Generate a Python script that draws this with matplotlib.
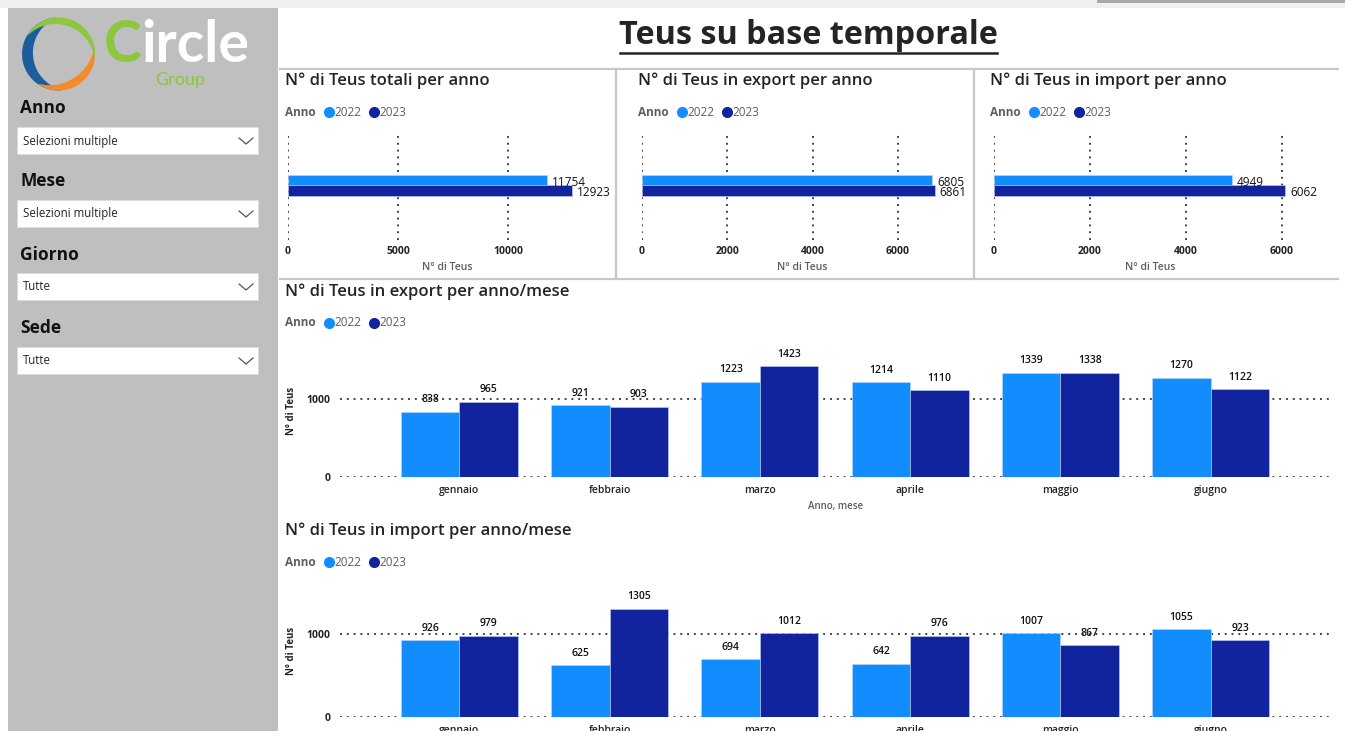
import matplotlib
matplotlib.use('Agg')
import matplotlib.pyplot as plt
import numpy as np
from matplotlib.patches import Rectangle, Polygon

# ---------------- data ----------------
years = ['2022', '2023']
tot_per_anno = [11754, 12923]
export_per_anno = [6805, 6861]
import_per_anno = [4949, 6062]

months = ['gennaio', 'febbraio', 'marzo', 'aprile', 'maggio', 'giugno']
export_2022 = [838, 921, 1223, 1214, 1339, 1270]
export_2023 = [965, 903, 1423, 1110, 1338, 1122]
import_2022 = [926, 625, 694, 642, 1007, 1055]
import_2023 = [979, 1305, 1012, 976, 867, 923]

slicer_labels = ['Anno', 'Mese', 'Giorno', 'Sede']
slicer_values = ['Selezioni multiple', 'Selezioni multiple', 'Tutte', 'Tutte']

# ---------------- style ----------------
C22 = '#118DFF'
C23 = '#12239E'
TXT = '#252423'
GREY = '#605E5C'
GRID = dict(color='#444444', linestyle=(0, (1, 2.5)), linewidth=1.4)

plt.rcParams['font.family'] = ['Open Sans', 'DejaVu Sans']

W, H = 1345, 731
fig = plt.figure(figsize=(W / 100, H / 100), dpi=100)
fig.patch.set_facecolor('white')

bg = fig.add_axes([0, 0, 1, 1])
bg.set_xlim(0, W)
bg.set_ylim(H, 0)
bg.axis('off')


def rect(x0, y0, x1, y1, fc, ec='none', lw=0, z=1):
    bg.add_patch(Rectangle((x0, y0), x1 - x0, y1 - y0, facecolor=fc,
                           edgecolor=ec, linewidth=lw, zorder=z))


def ax_px(l, t, r, b):
    a = fig.add_axes([l / W, 1 - b / H, (r - l) / W, (b - t) / H])
    a.patch.set_alpha(0)
    for s in a.spines.values():
        s.set_visible(False)
    return a


# background frame
rect(0, 0, W, 8, '#F0F0F0')
rect(1097, 0, W, 3, '#A8A8A8')
rect(8, 8, 278, H, '#BFBFBF')

# separators
sep = dict(color='#C8C8C8', lw=1.6, zorder=2)
bg.plot([280, 1338], [69, 69], **sep)
bg.plot([280, 1338], [279, 279], **sep)
bg.plot([616, 616], [69, 279], **sep)
bg.plot([974, 974], [69, 279], **sep)

# main title (underlined)
bg.text(808, 36, 'Teus su base temporale', ha='center', va='center',
        fontsize=23.3, fontweight='bold', color=TXT, zorder=3)
bg.plot([620, 997], [52.5, 52.5], color=TXT, lw=1.8, zorder=3)

# ---------------- logo ----------------
cx, cy, R = 58.5, 54, 36.5


def crescent(a0, a1, wmax, color):
    t = np.linspace(0, 1, 80)
    ang = np.radians(a0 + (a1 - a0) * t)
    w = wmax * np.sin(np.pi * t) ** 0.8
    xo = cx + R * np.cos(ang)
    yo = cy - R * np.sin(ang)
    xi = cx + (R - w) * np.cos(ang)
    yi = cy - (R - w) * np.sin(ang)
    pts = np.column_stack([np.r_[xo, xi[::-1]], np.r_[yo, yi[::-1]]])
    bg.add_patch(Polygon(pts, closed=True, facecolor=color, edgecolor='none', zorder=3))


crescent(95, 275, 11, '#1B5E9C')
crescent(235, 370, 8, '#F28C28')
crescent(-5, 150, 7, '#8DC63F')
bg.text(104, 46, 'C', fontsize=41, fontweight='bold', color='#8DC63F',
        ha='left', va='center', family=['Lato', 'DejaVu Sans'], zorder=3)
bg.text(141, 46, 'ircle', fontsize=41, fontweight='bold', color='white',
        ha='left', va='center', family=['Lato', 'DejaVu Sans'], zorder=3)
bg.text(155, 80, 'Group', fontsize=13, color='#8DC63F', ha='left', va='center',
        family=['Lato', 'DejaVu Sans'], zorder=3)

# ---------------- slicers ----------------
label_y = [108, 181, 255, 328]
box_y = [127, 200, 273, 347]
for lab, val, ly, by in zip(slicer_labels, slicer_values, label_y, box_y):
    bg.text(20, ly, lab, fontsize=12.5, fontweight='bold', color='#111111',
            ha='left', va='center', zorder=3)
    rect(17, by, 258, by + 27, 'white', ec='#DDDDDD', lw=0.6, z=3)
    bg.text(23, by + 14, val, fontsize=8.3, color=TXT, ha='left', va='center', zorder=4)
    bg.plot([239, 246, 253], [by + 11, by + 17, by + 11], color='#555555', lw=0.9, zorder=4)


# ---------------- legends & titles ----------------
def panel_header(x, ty, ly, title):
    bg.text(x, ty, title, fontsize=12, fontweight='semibold', color=TXT,
            ha='left', va='center', zorder=3)
    bg.text(x, ly, 'Anno', fontsize=8.5, fontweight='bold', color=GREY,
            ha='left', va='center', zorder=3)
    bg.plot([x + 44], [ly], 'o', color=C22, ms=7, zorder=3)
    bg.text(x + 49, ly, years[0], fontsize=8.5, color=GREY, ha='left', va='center', zorder=3)
    bg.plot([x + 89], [ly], 'o', color=C23, ms=7, zorder=3)
    bg.text(x + 94, ly, years[1], fontsize=8.5, color=GREY, ha='left', va='center', zorder=3)


# ---------------- top horizontal bar charts ----------------
hspecs = [
    (285, 288, 0.0220, 14500, [0, 5000, 10000], tot_per_anno, 'N° di Teus totali per anno'),
    (638, 642, 0.04267, 7500, [0, 2000, 4000, 6000], export_per_anno, 'N° di Teus in export per anno'),
    (990, 994, 0.0480, 6500, [0, 2000, 4000, 6000], import_per_anno, 'N° di Teus in import per anno'),
]
for tx, x0, ppu, xmax, ticks, vals, title in hspecs:
    panel_header(tx, 81, 112, title)
    ax = ax_px(x0, 135, x0 + xmax * ppu, 240)
    ax.set_xlim(0, xmax)
    ax.set_ylim(-0.5, 0.5)
    ypos = [0.071, -0.029]
    cols = [C22, C23]
    for yp, v, c in zip(ypos, vals, cols):
        ax.barh(yp, v, height=0.1, color=c, edgecolor='#BFD6F5', linewidth=0.4, zorder=3)
        ax.annotate(f'{v}', (v, yp), xytext=(5, -2), textcoords='offset pixels',
                    ha='left', va='center', fontsize=8.5, color='#111111', zorder=4,
                    annotation_clip=False)
    ax.set_xticks(ticks)
    ax.set_xticklabels([str(t) for t in ticks], fontsize=7.5, fontweight='bold', color=TXT)
    ax.set_yticks([])
    ax.tick_params(axis='x', length=0, pad=4)
    ax.grid(axis='x', **GRID, zorder=0)
    ax.set_axisbelow(True)
    ax.set_xlabel('N° di Teus', fontsize=7.5, fontweight='semibold', color=GREY, labelpad=4)


# ---------------- bottom column charts ----------------
def col_chart(ty, ly, bottom, ppk, title, v22, v23, xlabel=None, label_y=0.52):
    panel_header(285, ty, ly, title)
    ymax = 1600
    top = bottom - ymax * ppk / 1000
    ax = ax_px(340, top, 1331, bottom)
    ax.set_xlim(-0.794, 5.80)
    ax.set_ylim(0, ymax)
    x = np.arange(len(months))
    w = 0.389
    for off, vals, c in ((-w / 2, v22, C22), (w / 2, v23, C23)):
        bars = ax.bar(x + off, vals, width=w, color=c, edgecolor='#BFD6F5',
                      linewidth=0.4, zorder=3)
        for b, v in zip(bars, vals):
            ax.annotate(f'{v}', (b.get_x() + b.get_width() / 2, v), xytext=(0, 12),
                        textcoords='offset pixels', ha='center', va='center',
                        fontsize=7.5, fontweight='semibold', color='#111111', zorder=4,
                        annotation_clip=False)
    ax.set_xticks(x)
    ax.set_xticklabels(months, fontsize=7.5, fontweight='semibold', color=TXT)
    ax.set_yticks([0, 1000])
    ax.set_yticklabels(['0', '1000'], fontsize=7.5, fontweight='bold', color=TXT)
    ax.tick_params(axis='both', length=0)
    ax.tick_params(axis='x', pad=6)
    ax.tick_params(axis='y', pad=7)
    ax.grid(axis='y', **GRID, zorder=0)
    ax.set_axisbelow(True)
    ax.set_ylabel('N° di Teus', fontsize=7, fontweight='bold', color=TXT)
    ax.yaxis.set_label_coords(-0.0435, label_y)
    if xlabel:
        ax.set_xlabel(xlabel, fontsize=7, fontweight='semibold', color=GREY, labelpad=3)
    return ax


col_chart(292, 323, 477, 78, 'N° di Teus in export per anno/mese',
          export_2022, export_2023, xlabel='Anno, mese', label_y=0.53)
col_chart(531, 562, 717, 83, 'N° di Teus in import per anno/mese',
          import_2022, import_2023, label_y=0.5)

fig.savefig('out.png', dpi=100)
